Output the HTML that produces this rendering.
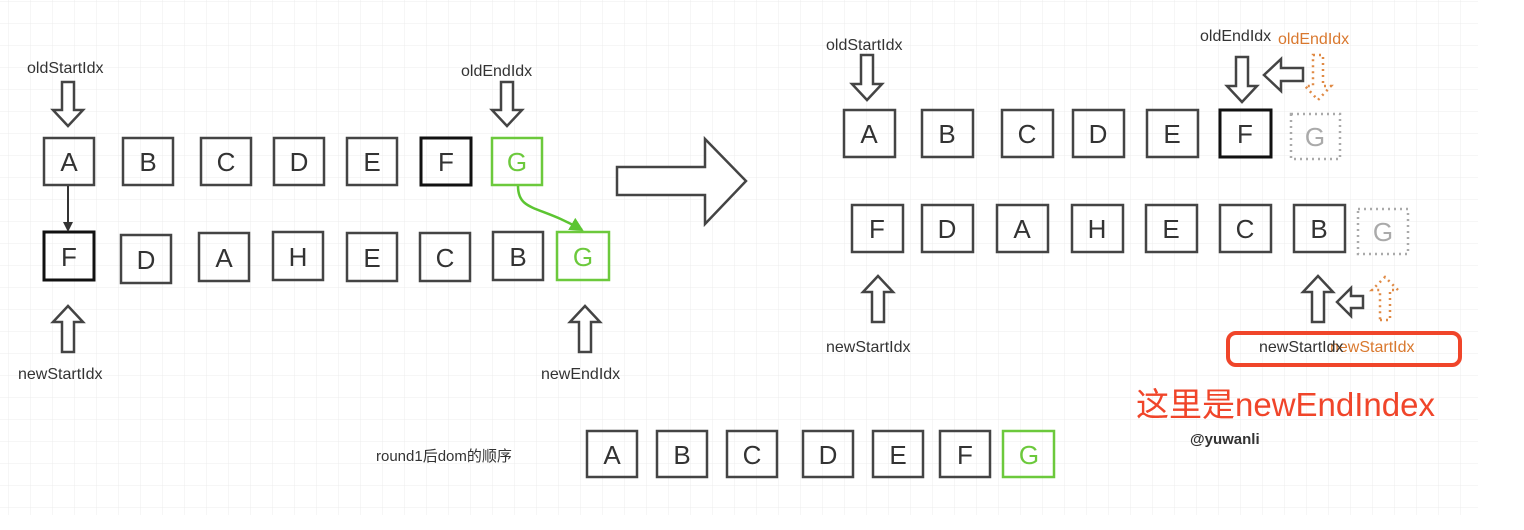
<!DOCTYPE html>
<html><head><meta charset="utf-8"><style>
html,body{margin:0;padding:0;background:#fff;}
svg{display:block;}
text{font-family:"Liberation Sans","Noto Sans CJK SC",sans-serif;}
</style></head><body>
<svg width="1524" height="530" viewBox="0 0 1524 530" xmlns="http://www.w3.org/2000/svg">
<defs>
<pattern id="g" x="8" y="1" width="22" height="22" patternUnits="userSpaceOnUse">
<path d="M0 0H22M0 0V22" stroke="#ececec" stroke-width="1" fill="none"/>
</pattern>
<marker id="ab" markerWidth="10" markerHeight="10" refX="8" refY="5" orient="auto" markerUnits="userSpaceOnUse"><path d="M0,0 L10,5 L0,10z" fill="#333"/></marker>
<marker id="ag" markerWidth="14" markerHeight="14" refX="12" refY="7" orient="auto" markerUnits="userSpaceOnUse"><path d="M0,0 L14,7 L0,14z" fill="#5cc532"/></marker>
</defs>
<rect x="0" y="0" width="1478" height="515" fill="url(#g)"/>

<g fill="none" stroke="#444" stroke-width="2.5">
<!-- left top row -->
<rect x="44" y="138" width="50" height="47"/>
<rect x="123" y="138" width="50" height="47"/>
<rect x="201" y="138" width="50" height="47"/>
<rect x="274" y="138" width="50" height="47"/>
<rect x="347" y="138" width="50" height="47"/>
<rect x="421" y="138" width="50" height="47" stroke="#111" stroke-width="3"/>
<rect x="492" y="138" width="50" height="47" stroke="#6cc93c"/>
<!-- left bottom row -->
<rect x="44" y="232" width="50" height="48" stroke="#111" stroke-width="3"/>
<rect x="121" y="235" width="50" height="48"/>
<rect x="199" y="233" width="50" height="48"/>
<rect x="273" y="232" width="50" height="48"/>
<rect x="347" y="233" width="50" height="48"/>
<rect x="420" y="233" width="50" height="48"/>
<rect x="493" y="232" width="50" height="48"/>
<rect x="557" y="232" width="52" height="48" stroke="#6cc93c"/>
<!-- right top row -->
<rect x="844" y="110" width="51" height="47"/>
<rect x="922" y="110" width="51" height="47"/>
<rect x="1002" y="110" width="51" height="47"/>
<rect x="1073" y="110" width="51" height="47"/>
<rect x="1147" y="110" width="51" height="47"/>
<rect x="1220" y="110" width="51" height="47" stroke="#111" stroke-width="3"/>
<rect x="1291" y="114" width="49" height="45" stroke="#aaa" stroke-dasharray="2,4"/>
<!-- right bottom row -->
<rect x="852" y="205" width="51" height="47"/>
<rect x="922" y="205" width="51" height="47"/>
<rect x="997" y="205" width="51" height="47"/>
<rect x="1072" y="205" width="51" height="47"/>
<rect x="1146" y="205" width="51" height="47"/>
<rect x="1220" y="205" width="51" height="47"/>
<rect x="1294" y="205" width="51" height="47"/>
<rect x="1358" y="209" width="50" height="45" stroke="#aaa" stroke-dasharray="2,4"/>
<!-- bottom row -->
<rect x="587" y="431" width="50" height="46"/>
<rect x="657" y="431" width="50" height="46"/>
<rect x="727" y="431" width="50" height="46"/>
<rect x="803" y="431" width="50" height="46"/>
<rect x="873" y="431" width="50" height="46"/>
<rect x="940" y="431" width="50" height="46"/>
<rect x="1003" y="431" width="51" height="46" stroke="#6cc93c"/>
</g>

<g font-size="26" text-anchor="middle" fill="#333">
<text x="69" y="171">A</text><text x="148" y="171">B</text><text x="226" y="171">C</text><text x="299" y="171">D</text><text x="372" y="171">E</text><text x="446" y="171">F</text><text x="517" y="171" fill="#6cc93c">G</text>
<text x="69" y="266">F</text><text x="146" y="269">D</text><text x="224" y="267">A</text><text x="298" y="266">H</text><text x="372" y="267">E</text><text x="445" y="267">C</text><text x="518" y="266">B</text><text x="583" y="266" fill="#6cc93c">G</text>
<text x="869" y="143">A</text><text x="947" y="143">B</text><text x="1027" y="143">C</text><text x="1098" y="143">D</text><text x="1172" y="143">E</text><text x="1245" y="143">F</text><text x="1315" y="146" fill="#aaa">G</text>
<text x="877" y="238">F</text><text x="947" y="238">D</text><text x="1022" y="238">A</text><text x="1097" y="238">H</text><text x="1171" y="238">E</text><text x="1245" y="238">C</text><text x="1319" y="238">B</text><text x="1383" y="241" fill="#aaa">G</text>
<text x="612" y="464">A</text><text x="682" y="464">B</text><text x="752" y="464">C</text><text x="828" y="464">D</text><text x="898" y="464">E</text><text x="965" y="464">F</text><text x="1029" y="464" fill="#6cc93c">G</text>
</g>

<g font-size="16" fill="#333">
<text x="27" y="73">oldStartIdx</text>
<text x="461" y="76">oldEndIdx</text>
<text x="18" y="379">newStartIdx</text>
<text x="541" y="379">newEndIdx</text>
<text x="826" y="50">oldStartIdx</text>
<text x="826" y="352">newStartIdx</text>
<text x="1200" y="41">oldEndIdx</text>
<text x="1278" y="44" fill="#d9782e">oldEndIdx</text>
<text x="1330" y="352" fill="#d9782e">newStartIdx</text>
<text x="1259" y="352">newStartIdx</text>
<text x="376" y="461" font-size="15">round1后dom的顺序</text>
<text x="1190" y="444" font-size="15" font-weight="bold">@yuwanli</text>
</g>
<text x="1136" y="416" font-size="33" fill="#f0452a">这里是newEndIndex</text>
<rect x="1228" y="333" width="232" height="32" rx="8" fill="none" stroke="#f0452a" stroke-width="4"/>

<g fill="#fff" stroke="#444" stroke-width="2.5" stroke-linejoin="miter">
<!-- down arrows -->
<polygon points="62,82 74,82 74,110 83,110 68,126 53,110 62,110"/>
<polygon points="501,82 513,82 513,110 522,110 507,126 492,110 501,110"/>
<polygon points="861,55 873,55 873,84 882,84 867,100 852,84 861,84"/>
<polygon points="1236,57 1248,57 1248,86 1257,86 1242,102 1227,86 1236,86"/>
<!-- up arrows -->
<polygon points="62,352 74,352 74,322 83,322 68,306 53,322 62,322"/>
<polygon points="579,352 591,352 591,322 600,322 585,306 570,322 579,322"/>
<polygon points="872,322 884,322 884,292 893,292 878,276 863,292 872,292"/>
<polygon points="1312,322 1324,322 1324,292 1333,292 1318,276 1303,292 1312,292"/>
<!-- left arrows -->
<polygon points="1303,68 1303,81 1281,81 1281,91 1264,75 1281,59 1281,68"/>
<polygon points="1363,296 1363,308 1351,308 1351,316 1337,302 1351,288 1351,296"/>
<!-- big arrow -->
<polygon points="617,167 705,167 705,139 746,181 705,224 705,195 617,195"/>
</g>
<g fill="none" stroke="#e08a45" stroke-width="2.5" stroke-dasharray="2,4">
<polygon points="1313,55 1323,55 1323,86 1331,86 1318,100 1305,86 1313,86"/>
<polygon points="1380,320 1390,320 1390,290 1398,290 1385,277 1372,290 1380,290"/>
</g>
<line x1="68" y1="186" x2="68" y2="230" stroke="#333" stroke-width="2" marker-end="url(#ab)"/>
<path d="M518,186 C518,212 540,205 582,230" fill="none" stroke="#5cc532" stroke-width="2.5" marker-end="url(#ag)"/>
</svg>
</body></html>
